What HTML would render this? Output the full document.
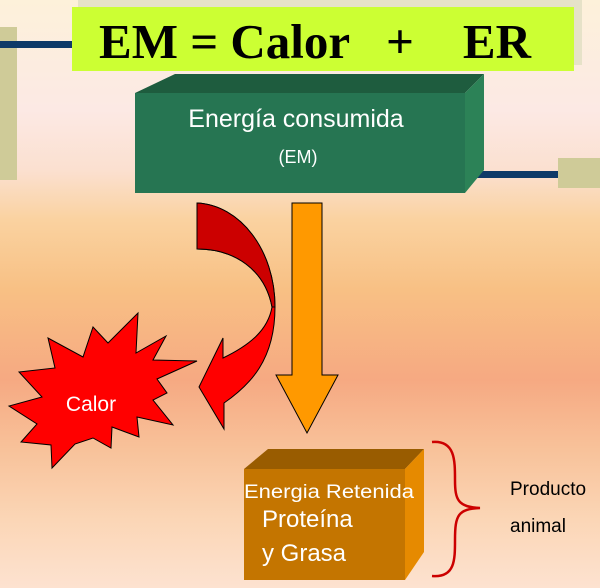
<!DOCTYPE html>
<html><head><meta charset="utf-8"><style>
body{margin:0}
#c{position:relative;width:600px;height:588px;overflow:hidden;font-family:"Liberation Sans",sans-serif;
background:linear-gradient(to bottom,#fdf1da 0px,#fce9e4 110px,#fbe0d0 170px,#fad2a0 220px,#f8c084 290px,#f6a982 380px,#f8c29a 450px,#fbd6b6 520px,#fde2d0 588px)}
svg{position:absolute;left:0;top:0}
</style></head><body><div id="c">
<svg width="600" height="588" viewBox="0 0 600 588">
<rect x="0" y="27" width="17" height="153" fill="#cfcb98"/>
<rect x="0" y="41" width="80" height="7" fill="#0e3a68"/>
<rect x="470" y="171" width="130" height="7" fill="#0e3a68"/>
<rect x="558" y="158" width="42" height="30" fill="#cfcb98"/>
<rect x="78" y="0" width="504" height="65" fill="#e6e2c8"/>
<rect x="72" y="7" width="502" height="64" fill="#ccff33"/>
<text x="315" y="58" font-family="Liberation Serif" font-weight="bold" font-size="49" text-anchor="middle" xml:space="preserve">EM = Calor   +    ER</text>
<polygon points="135,93 175,74 484,74 465,93" fill="#1e5c3e"/>
<polygon points="465,93 484,74 484,170 465,193" fill="#2c8257"/>
<rect x="135" y="93" width="330" height="100" fill="#267552"/>
<text x="296" y="127" fill="#fff" font-size="25" text-anchor="middle">Energía consumida</text>
<text x="298" y="163" fill="#fff" font-size="18" text-anchor="middle">(EM)</text>
<path d="M197,203 C240,205 275,250 275,307 C275,360 250,385 224,403 L224,429 L199,387 L223,338 L223,358 C250,345 268,330 272,307 C265,270 235,249 197,249 Z" fill="#ff0000" stroke="#000" stroke-width="1"/>
<path d="M197,203 C240,205 275,250 275,307 L272,307 C265,270 235,249 197,249 Z" fill="#cc0000" stroke="#000" stroke-width="1"/>
<polygon points="292,203 322,203 322,375 338,375 307,433 276,375 292,375" fill="#ff9900" stroke="#000" stroke-width="1"/>
<polygon points="138,313 136,353 166,336 153,360 197,361 157,379 167,393 153,400 173,425 137,417 139,437 112,427 111,448 93,438 75,444 52,468 51,445 21,442 37,424 9,406 42,397 19,372 55,368 48,338 83,357 93,327 108,343" fill="#ff0000" stroke="#000" stroke-width="1"/>
<text x="91" y="411" fill="#fff" font-size="21" text-anchor="middle">Calor</text>
<polygon points="244,469 268,449 424,449 405,469" fill="#995c00"/>
<polygon points="405,469 424,449 424,552 405,580" fill="#e68a00"/>
<rect x="244" y="469" width="161" height="111" fill="#c47500"/>
<text x="329" y="498" fill="#fff" font-size="19" text-anchor="middle" textLength="170" lengthAdjust="spacingAndGlyphs">Energia Retenida</text>
<text x="262" y="527" fill="#fff" font-size="24">Proteína</text>
<text x="262" y="561" fill="#fff" font-size="24">y Grasa</text>
<path d="M432,442 C455,440 455,460 455,480 C455,500 458,507 480,508 C458,509 455,515 455,540 C455,560 455,578 432,576" fill="none" stroke="#cc0000" stroke-width="2.5"/>
<text x="510" y="495" font-size="19">Producto</text>
<text x="510" y="532" font-size="19">animal</text>
</svg>
</div></body></html>
